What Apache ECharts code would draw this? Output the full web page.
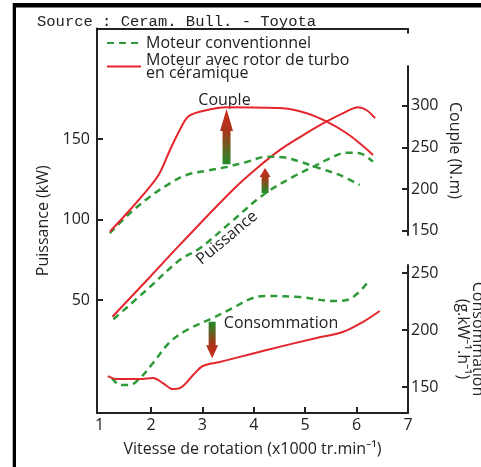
<!DOCTYPE html>
<html>
<head>
<meta charset="utf-8">
<script src="https://cdn.jsdelivr.net/npm/echarts@6/dist/echarts.min.js"></script>
<style>
    html, body { margin: 0; padding: 0; background: #fff; }
    #chart { width: 481px; height: 467px; }
</style>
</head>
<body>
<div id="chart"></div>
<script>
// ============================================
// Moteur conventionnel vs rotor de turbo en céramique
// ============================================

const SOURCE_TEXT = 'Source : Ceram. Bull. - Toyota';
const NAME_CONV = 'Moteur conventionnel';
const NAME_CERA = 'Moteur avec rotor de turbo\nen céramique';

// ticks
const xTicks = [1, 2, 3, 4, 5, 6, 7];
const puissanceTicks = [50, 100, 150];
const coupleTicks = [150, 200, 250, 300];
const consoTicks = [150, 200, 250];

// Puissance (kW) - [vitesse x1000, valeur]
const puissanceConv = [[1.27, 38.0], [1.98, 58.1], [2.56, 74.8], [2.95, 82.1], [3.53, 97.6], [4.18, 115.2],
    [4.77, 126.6], [5.16, 132.8], [5.55, 139.0], [5.80, 141.5], [6.06, 141.1], [6.32, 135.9]];
const puissanceCera = [[1.25, 39.6], [1.98, 64.3], [2.56, 84.2], [3.59, 118.3], [4.06, 131.8], [4.51, 143.2],
    [4.90, 151.2], [5.41, 160.7], [5.80, 167.0], [6.03, 169.7], [6.19, 168.0], [6.36, 162.9]];

// Couple (N.m)
const coupleConv = [[1.20, 146.9], [1.59, 170.9], [1.98, 190.8], [2.37, 206.8], [2.69, 216.8], [3.08, 221.9],
    [3.47, 226.4], [3.86, 232.4], [4.25, 238.7], [4.57, 238.0], [4.90, 232.7], [5.28, 224.8], [5.67, 216.8], [6.06, 204.8]];
const coupleCera = [[1.20, 148.8], [1.59, 174.8], [1.98, 202.8], [2.17, 219.2], [2.37, 246.8], [2.56, 270.7],
    [2.72, 286.7], [2.95, 292.7], [3.47, 298.0], [4.57, 296.8], [5.03, 290.8], [5.42, 280.7], [5.80, 267.1],
    [6.06, 254.8], [6.32, 240.8]];

// Consommation (g.kW-1.h-1)
const consoConv = [[1.24, 157.9], [1.40, 151.8], [1.59, 151.8], [1.79, 157.9], [2.04, 171.1], [2.37, 189.5],
    [2.70, 200.0], [3.20, 210.5], [3.59, 219.3], [3.98, 228.1], [4.25, 229.8], [4.90, 228.9], [5.54, 225.4],
    [5.81, 226.3], [6.03, 232.5], [6.22, 242.1]];
const consoCera = [[1.16, 159.6], [1.34, 157.0], [1.79, 157.0], [2.04, 157.9], [2.23, 153.5], [2.43, 148.2],
    [2.60, 150.0], [2.82, 160.5], [3.01, 168.4], [3.34, 171.9], [4.25, 182.5], [5.22, 193.0], [5.73, 198.2],
    [6.12, 207.0], [6.45, 216.7]];

// flèches : [grille, x, départ, pointe]
const arrowCouple = [1, 3.47, 229.6, 295.9];
const arrowPuissance = [0, 4.22, 116.5, 132.0];
const arrowConso = [2, 3.19, 207.3, 175.2];

const RED = '#e4262c';
const GREEN = '#2f9a37';
const INK = '#222';
const FONT = 'Open Sans';

const chart = echarts.init(document.getElementById('chart'));

function hiddenX(gridIndex) {
    return { type: 'value', gridIndex: gridIndex, min: 0.95, max: 7, show: false };
}

function rightAxis(gridIndex, min, max, ticks, name, gap) {
    return {
        type: 'value', gridIndex: gridIndex, position: 'right', min: min, max: max,
        axisLine: { show: true, onZero: false, lineStyle: { color: INK, width: 2 } },
        axisTick: { show: true, inside: true, length: 6, customValues: ticks, lineStyle: { color: INK, width: 2 } },
        axisLabel: { customValues: ticks, margin: 3, fontSize: 16, color: INK, fontFamily: FONT },
        splitLine: { show: false },
        name: name, nameLocation: 'middle', nameRotate: -90, nameGap: gap, nameMoveOverlap: false,
        nameTextStyle: { fontSize: 16, color: INK, fontFamily: FONT, lineHeight: 15 }
    };
}

function lineSeries(name, data, gridAxis, conv) {
    return {
        type: 'line', name: name, data: data,
        xAxisIndex: gridAxis[0], yAxisIndex: gridAxis[1],
        smooth: 0.35, symbol: 'none', showSymbol: false, clip: false, silent: true,
        lineStyle: conv ? { color: GREEN, width: 2.5, type: [7, 5] } : { color: RED, width: 2 },
        itemStyle: { color: conv ? GREEN : RED }
    };
}

const legendBase = {
    left: 106, padding: 0, itemWidth: 34, itemHeight: 12, selectedMode: false,
    itemStyle: { opacity: 0 }
};

chart.setOption({
    animation: false,
    backgroundColor: '#fff',
    title: {
        text: SOURCE_TEXT, left: 32, top: 9,
        textStyle: { fontFamily: 'Liberation Mono', fontSize: 15.5, fontWeight: 'normal', color: INK }
    },
    legend: [
        Object.assign({}, legendBase, {
            data: [NAME_CONV], top: 35,
            textStyle: { fontSize: 16, color: INK, fontFamily: FONT, lineHeight: 16 }
        }),
        Object.assign({}, legendBase, {
            data: [NAME_CERA], top: 47,
            textStyle: { fontSize: 16, color: INK, fontFamily: FONT, lineHeight: 13, padding: [13, 0, 0, 0] }
        })
    ],
    grid: [
        { left: 97, right: 73, top: 28.5, bottom: 54, outerBoundsMode: 'none', containLabel: false },
        { left: 97, right: 73, top: 66, bottom: 232, outerBoundsMode: 'none', containLabel: false },
        { left: 97, right: 73, top: 265, bottom: 54, outerBoundsMode: 'none', containLabel: false }
    ],
    xAxis: [
        {
            type: 'value', gridIndex: 0, min: 0.95, max: 7,
            axisLine: { onZero: false, lineStyle: { color: INK, width: 2 } },
            axisTick: { inside: true, length: 6, customValues: xTicks.slice(1), lineStyle: { color: INK, width: 2 } },
            axisLabel: { customValues: xTicks, margin: 4, fontSize: 16, color: INK, fontFamily: FONT },
            splitLine: { show: false },
            name: 'Vitesse de rotation (x1000 tr.min⁻¹)', nameLocation: 'middle', nameGap: 28,
            nameTextStyle: { fontSize: 16, color: INK, fontFamily: FONT }
        },
        {
            type: 'value', gridIndex: 0, position: 'top', min: 0.95, max: 7,
            axisLine: { onZero: false, lineStyle: { color: INK, width: 2 } },
            axisTick: { inside: true, length: 5, customValues: [7], lineStyle: { color: INK, width: 2 } },
            axisLabel: { show: false },
            splitLine: { show: false }
        },
        hiddenX(1),
        hiddenX(2)
    ],
    yAxis: [
        {
            type: 'value', gridIndex: 0, min: -20.2, max: 218.6,
            axisLine: { show: true, onZero: false, lineStyle: { color: INK, width: 2 } },
            axisTick: { show: true, inside: true, length: 6, customValues: puissanceTicks, lineStyle: { color: INK, width: 2 } },
            axisLabel: { customValues: puissanceTicks, margin: 7, fontSize: 16, color: INK, fontFamily: FONT },
            splitLine: { show: false },
            name: 'Puissance (kW)', nameLocation: 'middle', nameRotate: 90, nameGap: 35,
            nameTextStyle: { fontSize: 16, color: INK, fontFamily: FONT }
        },
        rightAxis(1, 144.8, 347.5, coupleTicks, 'Couple (N.m)', 39),
        rightAxis(2, 127.2, 257.0, consoTicks, 'Consommation\n(g.kW⁻¹.h⁻¹)', 47)
    ],
    series: [
        lineSeries(NAME_CONV, puissanceConv, [0, 0], true),
        lineSeries(NAME_CERA, puissanceCera, [0, 0], false),
        lineSeries(NAME_CONV, coupleConv, [2, 1], true),
        lineSeries(NAME_CERA, coupleCera, [2, 1], false),
        lineSeries(NAME_CONV, consoConv, [3, 2], true),
        lineSeries(NAME_CERA, consoCera, [3, 2], false)
    ]
});

// flèches et textes en coordonnées des données
function arrowGraphic(a, shaftW, headW, headLen) {
    const p0 = chart.convertToPixel({ gridIndex: a[0] }, [a[1], a[2]]);
    const p1 = chart.convertToPixel({ gridIndex: a[0] }, [a[1], a[3]]);
    const x = p0[0];
    const dir = p1[1] > p0[1] ? 1 : -1;
    const yb = p1[1] - dir * headLen;
    const up = dir < 0;
    return {
        type: 'polygon', silent: true,
        shape: {
            points: [[x - shaftW / 2, p0[1]], [x - shaftW / 2, yb], [x - headW / 2, yb], [x, p1[1]],
                [x + headW / 2, yb], [x + shaftW / 2, yb], [x + shaftW / 2, p0[1]]]
        },
        style: {
            fill: new echarts.graphic.LinearGradient(0, 0, 0, 1, up
                ? [{ offset: 0, color: '#cc2a1c' }, { offset: 0.4, color: '#a8361b' }, { offset: 1, color: '#1f8c2a' }]
                : [{ offset: 0, color: '#1f8c2a' }, { offset: 0.6, color: '#a8361b' }, { offset: 1, color: '#cc2a1c' }])
        }
    };
}

function label(gridIndex, x, y, text, rot) {
    const p = chart.convertToPixel({ gridIndex: gridIndex }, [x, y]);
    return {
        type: 'text', silent: true, x: p[0], y: p[1], rotation: (rot || 0) * Math.PI / 180,
        style: { text: text, fill: INK, font: '16px "Open Sans"', align: 'center', verticalAlign: 'middle' }
    };
}

chart.setOption({
    graphic: [
        { type: 'rect', silent: true, shape: { x: 13, y: 3, width: 468, height: 4.5 }, style: { fill: '#000' } },
        { type: 'rect', silent: true, shape: { x: 12.7, y: 3, width: 3.3, height: 464 }, style: { fill: '#000' } },
        arrowGraphic(arrowCouple, 8, 13, 22),
        arrowGraphic(arrowPuissance, 7, 11, 9),
        arrowGraphic(arrowConso, 7, 12, 13),
        label(1, 3.43, 306.7, 'Couple'),
        label(0, 3.48, 88.5, 'Puissance', 40),
        label(2, 4.53, 206.1, 'Consommation')
    ]
});
</script>
</body>
</html>
